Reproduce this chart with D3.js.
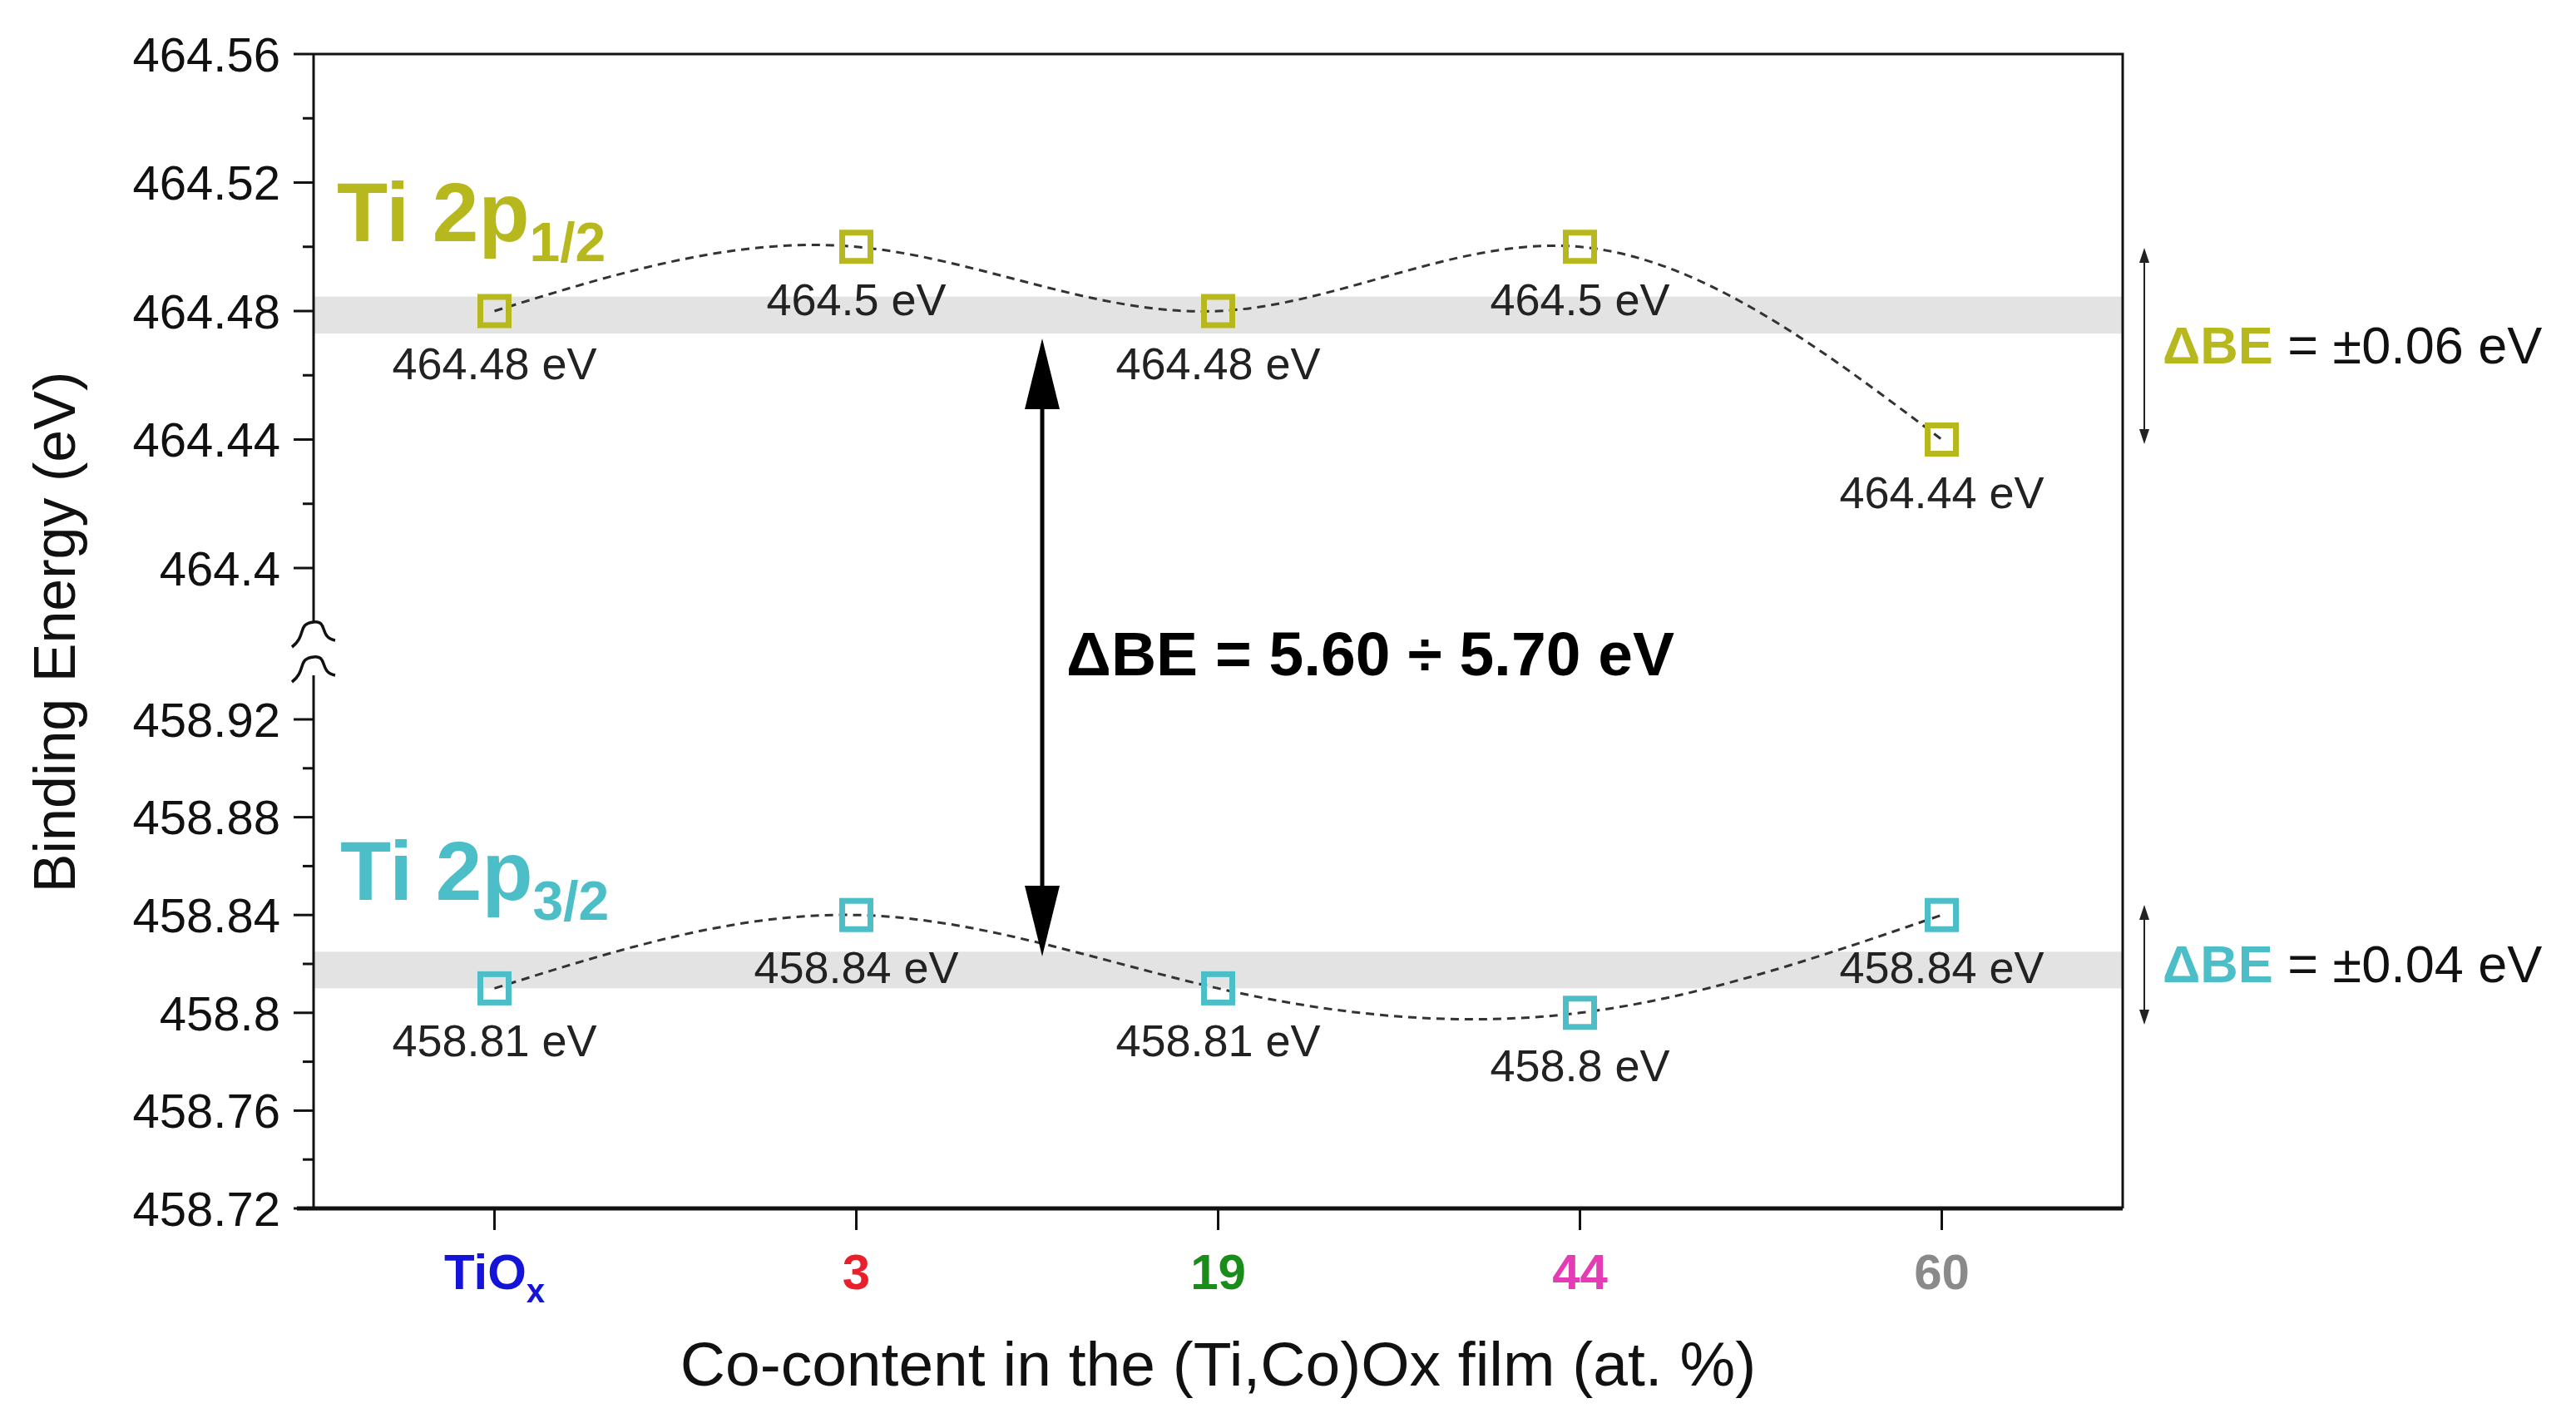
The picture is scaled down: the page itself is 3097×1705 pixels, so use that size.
<!DOCTYPE html><html><head><meta charset="utf-8"><script src="https://cdn.jsdelivr.net/npm/d3@7"></script>
<style>body{margin:0;background:#fff}text{font-family:Arial,"Liberation Sans",sans-serif}</style></head><body>
<svg id="c" width="3097" height="1705"></svg>
<script>
const categories=["TiOx","3","19","44","60"];
const catColors=["#1414d8","#e8202c","#1a8c1a","#e43cb4","#8a8a8a"];
const ti12=[464.48,464.5,464.48,464.5,464.44];
const ti32=[458.81,458.84,458.81,458.80,458.84];
const upperTicks=[464.4,464.44,464.48,464.52,464.56];
const lowerTicks=[458.72,458.76,458.8,458.84,458.88,458.92];
const upperMinor=[464.42,464.46,464.5,464.54];
const lowerMinor=[458.74,458.78,458.82,458.86,458.9];
const col12="#b7b81e", col32="#4cbec8";

const svg=d3.select("#c");
const L=377,R=2552,T=65,B=1453;
const x=d3.scalePoint().domain(categories).range([L,R]).padding(0.5);
const yU=d3.scaleLinear().domain([464.4,464.56]).range([683,T]);
const yL=d3.scaleLinear().domain([458.72,458.92]).range([B,865]);

svg.append("rect").attr("x",L).attr("width",R-L).attr("y",yU(464.4845)).attr("height",yU(464.473)-yU(464.4845)).attr("fill","#e3e3e3");
svg.append("rect").attr("x",L).attr("width",R-L).attr("y",yL(458.825)).attr("height",yL(458.81)-yL(458.825)).attr("fill","#e3e3e3");

svg.append("path").attr("d",`M${L},${T}H${R}V${B}`).attr("fill","none").attr("stroke","#111").attr("stroke-width",3);
svg.append("line").attr("x1",L-20).attr("x2",R).attr("y1",B).attr("y2",B).attr("stroke","#111").attr("stroke-width",5);
svg.append("line").attr("x1",L).attr("x2",L).attr("y1",T).attr("y2",748).attr("stroke","#111").attr("stroke-width",3);
svg.append("line").attr("x1",L).attr("x2",L).attr("y1",812).attr("y2",B).attr("stroke","#111").attr("stroke-width",3);
[748,790].forEach(yy=>{
  svg.append("path").attr("d",`M${L-26},${yy+30} C${L-8},${yy+16} ${L-20},${yy+2} ${L},${yy} C${L+18},${yy-2} ${L+6},${yy+18} ${L+26},${yy+22}`)
   .attr("fill","none").attr("stroke","#111").attr("stroke-width",3.5);
});
function yticks(sc,maj,min){
  maj.forEach(v=>{
    svg.append("line").attr("x1",L-24).attr("x2",L).attr("y1",sc(v)).attr("y2",sc(v)).attr("stroke","#111").attr("stroke-width",3);
    svg.append("text").attr("x",L-40).attr("y",sc(v)).attr("dy","0.36em").attr("text-anchor","end").attr("font-size",58).attr("fill","#111").text(String(v));
  });
  min.forEach(v=>svg.append("line").attr("x1",L-13).attr("x2",L).attr("y1",sc(v)).attr("y2",sc(v)).attr("stroke","#111").attr("stroke-width",3));
}
yticks(yU,upperTicks,upperMinor);yticks(yL,lowerTicks,lowerMinor);
categories.forEach((c,i)=>{
  svg.append("line").attr("x1",x(c)).attr("x2",x(c)).attr("y1",B).attr("y2",B+26).attr("stroke","#111").attr("stroke-width",3);
  const t=svg.append("text").attr("x",x(c)).attr("y",1550).attr("text-anchor","middle").attr("font-size",60).attr("font-weight","bold").attr("fill",catColors[i]);
  if(c==="TiOx"){t.append("tspan").text("TiO");t.append("tspan").attr("font-size",40).attr("dy",16).text("x");}
  else t.text(c);
});
svg.append("text").attr("x",x("19")).attr("y",1666).attr("text-anchor","middle").attr("font-size",75).attr("fill","#111").text("Co-content in the (Ti,Co)Ox film (at. %)");
svg.append("text").attr("transform","translate(90,760) rotate(-90)").attr("text-anchor","middle").attr("font-size",70).attr("fill","#111").text("Binding Energy (eV)");

function series(vals,sc,color,lblOff){
  const pts=vals.map((v,i)=>[x(categories[i]),sc(v)]);
  svg.append("path").attr("d",d3.line().curve(d3.curveNatural)(pts)).attr("fill","none").attr("stroke","#333").attr("stroke-width",3).attr("stroke-dasharray","10,7");
  pts.forEach((p,i)=>{
    svg.append("rect").attr("x",p[0]-17).attr("y",p[1]-17).attr("width",34).attr("height",34).attr("fill","none").attr("stroke",color).attr("stroke-width",7);
    svg.append("text").attr("x",p[0]).attr("y",p[1]+lblOff).attr("text-anchor","middle").attr("font-size",54).attr("fill","#222").text(vals[i]+" eV");
  });
}
series(ti12,yU,col12,82);series(ti32,yL,col32,82);

function title(xx,yy,color,sub){
  const t=svg.append("text").attr("x",xx).attr("y",yy).attr("font-size",100).attr("font-weight","bold").attr("fill",color);
  t.append("tspan").text("Ti 2p");t.append("tspan").attr("font-size",66).attr("dy",24).text(sub);
}
title(405,290,col12,"1/2");title(409,1082,col32,"3/2");

const ax=1253;
svg.append("line").attr("x1",ax).attr("x2",ax).attr("y1",470).attr("y2",1090).attr("stroke","#000").attr("stroke-width",5);
svg.append("path").attr("d",`M${ax},407 L${ax-21},492 L${ax+21},492Z`).attr("fill","#000");
svg.append("path").attr("d",`M${ax},1150 L${ax-21},1065 L${ax+21},1065Z`).attr("fill","#000");
svg.append("text").attr("x",1282).attr("y",812).attr("font-size",75).attr("font-weight","bold").attr("fill","#000").text("ΔBE = 5.60 ÷ 5.70 eV");

function side(y1,y2,color,txt){
  const xx=2578;
  svg.append("line").attr("x1",xx).attr("x2",xx).attr("y1",y1+10).attr("y2",y2-10).attr("stroke","#222").attr("stroke-width",2);
  svg.append("path").attr("d",`M${xx},${y1} L${xx-6},${y1+18} L${xx+6},${y1+18}Z`).attr("fill","#222");
  svg.append("path").attr("d",`M${xx},${y2} L${xx-6},${y2-18} L${xx+6},${y2-18}Z`).attr("fill","#222");
  const t=svg.append("text").attr("x",2600).attr("y",(y1+y2)/2+21).attr("font-size",63).attr("fill","#111");
  t.append("tspan").attr("fill",color).attr("font-weight","bold").text("ΔBE");
  t.append("tspan").text(" = "+txt);
}
side(298,534,col12,"±0.06 eV");side(1088,1232,col32,"±0.04 eV");
</script></body></html>
